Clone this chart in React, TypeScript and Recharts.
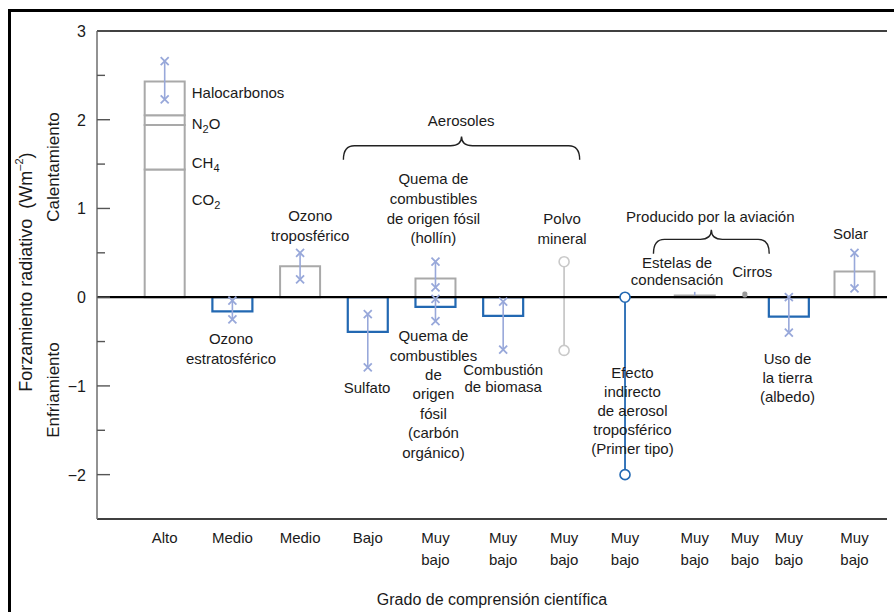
import {
  Bar,
  ComposedChart,
  ErrorBar,
  ReferenceArea,
  ReferenceDot,
  ReferenceLine,
  Scatter,
  XAxis,
  YAxis,
} from "recharts"

const FONT = '"Liberation Sans", Arial, Helvetica, sans-serif'
const GRAY = "#a9a9a9"
const BLUE = "#2268b2"
const ERR = "#98a8da"
const DUST = "#c9c9c9"

// grado de comprensión científica (eje x)
const levelPos = [1, 2, 3, 4, 5, 6, 6.9, 7.8, 8.83, 9.57, 10.22, 11.19]
const levelLabels = [
  "Alto", "Medio", "Medio", "Bajo", "Muy bajo", "Muy bajo",
  "Muy bajo", "Muy bajo", "Muy bajo", "Muy bajo", "Muy bajo", "Muy bajo",
]

// gases de efecto invernadero (barra apilada)
const ghgKeys = ["co2", "ch4", "n2o", "halo"]
const ghgValues = [1.44, 0.5, 0.11, 0.38]
const ghgHigh = 2.66
const ghgLow = 2.23

// resto de agentes
const agents = [
  "Ozono estratosférico", "Ozono troposférico", "Sulfato", "Hollín",
  "Carbón orgánico", "Combustión de biomasa", "Estelas de condensación",
  "Uso de la tierra", "Solar",
]
const agentPos = [2, 3, 4, 5, 5, 6, 8.83, 10.22, 11.19]
const agentForcing = [-0.16, 0.35, -0.39, 0.21, -0.11, -0.21, 0.02, -0.22, 0.29]
const agentHigh = [-0.04, 0.5, -0.19, 0.4, -0.02, -0.05, 0.06, 0, 0.5]
const agentLow = [-0.25, 0.2, -0.79, 0.11, -0.27, -0.59, 0.02, -0.4, 0.1]
const agentMarks = [true, true, true, true, true, true, false, true, true]

// agentes con solo un intervalo
const rangeNames = ["Polvo mineral", "Efecto indirecto"]
const rangePos = [6.9, 7.8]
const rangeHigh = [0.4, 0]
const rangeLow = [-0.6, -2]
const rangeColors = [DUST, BLUE]

const cirrusPos = 9.57
const cirrusForcing = 0.03

const yTicks = [-2, -1.5, -1, -0.5, 0, 0.5, 1, 1.5, 2, 2.5, 3]

const barRows = [
  { pos: levelPos[0], ...Object.fromEntries(ghgKeys.map((k, i) => [k, ghgValues[i]])) },
  ...agents.map((name, i) => ({
    name,
    pos: agentPos[i],
    warm: agentForcing[i] > 0 ? agentForcing[i] : null,
    cool: agentForcing[i] < 0 ? agentForcing[i] : null,
  })),
]

const errRows = [
  { pos: levelPos[0], hi: ghgHigh, lo: ghgLow, mark: true },
  ...agents.map((_, i) => ({ pos: agentPos[i], hi: agentHigh[i], lo: agentLow[i], mark: agentMarks[i] })),
].map((r) => ({ ...r, mid: (r.hi + r.lo) / 2, half: (r.hi - r.lo) / 2 }))

const errMarks = errRows
  .filter((r) => r.mark)
  .flatMap((r) => [
    { pos: r.pos, val: r.hi },
    { pos: r.pos, val: r.lo },
  ])

// textos del gráfico (en unidades de los ejes)
const notes = [
  { x: 1.4, y: 2.3, lines: ["Halocarbonos"], anchor: "start" },
  { x: 1.4, y: 1.95, lines: ["N_2O"], anchor: "start" },
  { x: 1.4, y: 1.51, lines: ["CH_4"], anchor: "start" },
  { x: 1.4, y: 1.1, lines: ["CO_2"], anchor: "start" },
  { x: 3.15, y: 0.92, lines: ["Ozono", "troposférico"] },
  { x: 1.98, y: -0.47, lines: ["Ozono", "estratosférico"] },
  { x: 5.38, y: 1.99, lines: ["Aerosoles"] },
  { x: 4.97, y: 1.33, lines: ["Quema de", "combustibles", "de origen fósil", "(hollín)"], lh: 19.7 },
  { x: 6.87, y: 0.88, lines: ["Polvo", "mineral"] },
  { x: 3.99, y: -1.02, lines: ["Sulfato"] },
  { x: 4.97, y: -0.44, lines: ["Quema de", "combustibles", "de", "origen", "fósil", "(carbón", "orgánico)"], lh: 19.4 },
  { x: 6.0, y: -0.82, lines: ["Combustión", "de biomasa"], lh: 17.5 },
  { x: 7.91, y: -0.85, lines: ["Efecto", "indirecto", "de aerosol", "troposférico", "(Primer tipo)"], lh: 19 },
  { x: 9.06, y: 0.9, lines: ["Producido por la aviación"] },
  { x: 8.57, y: 0.39, lines: ["Estelas de", "condensación"], lh: 17 },
  { x: 9.68, y: 0.28, lines: ["Cirros"] },
  { x: 10.2, y: -0.7, lines: ["Uso de", "la tierra", "(albedo)"], lh: 19 },
  { x: 11.13, y: 0.71, lines: ["Solar"] },
]

const braces = [
  { x1: 3.64, x2: 7.13, y1: 1.55, y2: 1.81 },
  { x1: 8.22, x2: 9.93, y1: 0.49, y2: 0.76 },
]

function rich(s: string) {
  const parts = s.split(/_(\d)/)
  const out: any[] = []
  parts.forEach((p, i) => {
    if (i % 2 === 1) {
      out.push(<tspan key={i} fontSize={11} dy={4}>{p}</tspan>)
    } else if (p) {
      out.push(<tspan key={i} dy={i > 0 ? -4 : 0}>{p}</tspan>)
    }
  })
  return out
}

const makeNote = (lines: string[], anchor: string, lh: number) => (p: any) => (
  <g>
    {lines.map((l, k) => (
      <text key={k} x={p.cx} y={p.cy + 5 + k * lh} textAnchor={anchor} fontSize={15} fill="#1a1a1a">
        {rich(l)}
      </text>
    ))}
  </g>
)

const Brace = (p: any) => {
  const { x, y, width: w, height: h } = p
  const mid = x + w / 2
  const arm = y + h * 0.4
  const r = 11
  const d = `M${x},${y + h} Q${x},${arm} ${x + r},${arm} L${mid - r},${arm} Q${mid},${arm} ${mid},${y} Q${mid},${arm} ${mid + r},${arm} L${x + w - r},${arm} Q${x + w},${arm} ${x + w},${y + h}`
  return <path d={d} fill="none" stroke="#222" strokeWidth={1.4} />
}

const Empty = () => <g />

const Cross = (p: any) => (
  <path
    d={`M${p.cx - 4},${p.cy - 4}L${p.cx + 4},${p.cy + 4}M${p.cx - 4},${p.cy + 4}L${p.cx + 4},${p.cy - 4}`}
    stroke={ERR}
    strokeWidth={1.8}
  />
)

const ring = (color: string) => (p: any) =>
  <circle cx={p.cx} cy={p.cy} r={5} fill="#fff" stroke={color} strokeWidth={1.6} />

const CirrusMark = (p: any) => <rect x={p.cx - 2.5} y={p.cy - 3} width={5} height={6} rx={2} fill="#999" />

const LeftTick = (p: any) => {
  const v = p.payload.value
  const major = Number.isInteger(v)
  return (
    <g>
      <line x1={p.x} x2={p.x + (major ? 13 : 8)} y1={p.y} y2={p.y} stroke="#555" strokeWidth={1.4} />
      {major && (
        <text x={p.x - 11} y={p.y + 6} textAnchor="end" fontSize={16} fill="#1a1a1a">
          {v < 0 ? `\u2212${-v}` : v}
        </text>
      )}
    </g>
  )
}

const RightTick = (p: any) => (
  <line x1={p.x - 7} x2={p.x} y1={p.y} y2={p.y} stroke="#555" strokeWidth={1.4} />
)

const LevelTick = (p: any) => {
  const i = levelPos.indexOf(p.payload.value)
  const words = (levelLabels[i] || "").split(" ")
  return (
    <g>
      {words.map((w, k) => (
        <text key={k} x={p.x} y={p.y + 24 + k * 21.5} textAnchor="middle" fontSize={15} fill="#1a1a1a">
          {w}
        </text>
      ))}
    </g>
  )
}

const YTitles = (p: any) => {
  const { x, y, height } = p.viewBox
  const cy = y + height * 0.494
  return (
    <g fill="#1a1a1a" fontSize={17}>
      <text
        transform={`translate(${x + 18},${cy}) rotate(-90)`}
        textAnchor="middle"
        dominantBaseline="central"
        fontSize={18}
      >
        {"Forzamiento radiativo \u00a0(Wm"}
        <tspan fontSize={11} dy={-7}>{"\u2013"}2</tspan>
        <tspan dy={7}>)</tspan>
      </text>
      <text transform={`translate(${x + 45},${y + 136}) rotate(-90)`} textAnchor="middle" dominantBaseline="central">
        Calentamiento
      </text>
      <text transform={`translate(${x + 45},${y + 359}) rotate(-90)`} textAnchor="middle" dominantBaseline="central">
        Enfriamiento
      </text>
    </g>
  )
}

export default function App() {
  return (
    <div style={{ position: "absolute", left: 0, top: 0, width: 894, height: 612, background: "#fff", fontFamily: FONT }}>
      <div
        style={{
          position: "absolute", left: 8, top: 9, right: 0, bottom: 0,
          borderTop: "3px solid #000", borderLeft: "3px solid #000",
        }}
      />
      <ComposedChart
        width={894}
        height={612}
        data={barRows}
        margin={{ top: 31, right: 7, bottom: 0, left: 8 }}
        style={{ fontFamily: FONT, position: "absolute", left: 0, top: 0 }}
      >
        <XAxis
          type="number"
          dataKey="pos"
          domain={[0, 11.67]}
          ticks={levelPos}
          interval={0}
          allowDataOverflow
          height={93}
          tickSize={0}
          tickMargin={0}
          tickLine={false}
          axisLine={{ stroke: "#000", strokeWidth: 1.6 }}
          tick={<LevelTick />}
          label={{ value: "Grado de comprensión científica", position: "insideBottom", offset: 7, fontSize: 16, fill: "#1a1a1a" }}
        />
        <YAxis
          type="number"
          domain={[-2.5, 3]}
          ticks={yTicks}
          interval={0}
          allowDataOverflow
          width={89}
          tickSize={0}
          tickMargin={0}
          tickLine={false}
          axisLine={{ stroke: "#777", strokeWidth: 1.6 }}
          tick={<LeftTick />}
          label={(p: any) => <YTitles viewBox={p.viewBox} />}
        />
        <YAxis
          yAxisId="r"
          orientation="right"
          type="number"
          domain={[-2.5, 3]}
          ticks={yTicks.slice(0, -1)}
          interval={0}
          allowDataOverflow
          width={0}
          tickSize={0}
          tickMargin={0}
          tickLine={false}
          axisLine={{ stroke: "#000", strokeWidth: 1.4 }}
          tick={<RightTick />}
        />
        <ReferenceLine y={3} stroke="#000" strokeWidth={1.4} />

        {ghgKeys.map((k) => (
          <Bar key={k} dataKey={k} stackId="f" barSize={40} fill="#fff" stroke={GRAY} strokeWidth={2} isAnimationActive={false} />
        ))}
        <Bar dataKey="warm" stackId="f" barSize={40} fill="#fff" stroke={GRAY} strokeWidth={2} isAnimationActive={false} />
        <Bar dataKey="cool" stackId="f" barSize={40} fill="#fff" stroke={BLUE} strokeWidth={2.2} isAnimationActive={false} />

        {notes.map((n, i) => (
          <ReferenceDot
            key={i}
            x={n.x}
            y={n.y}
            r={0}
            shape={makeNote(n.lines, n.anchor || "middle", n.lh || 20)}
          />
        ))}
        {braces.map((b, i) => (
          <ReferenceArea key={i} x1={b.x1} x2={b.x2} y1={b.y1} y2={b.y2} shape={<Brace />} />
        ))}

        <Scatter data={errRows} dataKey="mid" shape={<Empty />} isAnimationActive={false}>
          <ErrorBar dataKey="half" direction="y" width={0} stroke={ERR} strokeWidth={1.6} />
        </Scatter>
        <Scatter data={errMarks} dataKey="val" shape={<Cross />} isAnimationActive={false} />

        {rangeNames.map((name, i) => (
          <Scatter
            key={name}
            name={name}
            data={[{ pos: rangePos[i], mid: (rangeHigh[i] + rangeLow[i]) / 2, half: (rangeHigh[i] - rangeLow[i]) / 2 }]}
            dataKey="mid"
            shape={<Empty />}
            isAnimationActive={false}
          >
            <ErrorBar dataKey="half" direction="y" width={0} stroke={rangeColors[i]} strokeWidth={1.8} />
          </Scatter>
        ))}
        {rangeNames.map((name, i) => (
          <Scatter
            key={name + "-ends"}
            data={[
              { pos: rangePos[i], val: rangeHigh[i] },
              { pos: rangePos[i], val: rangeLow[i] },
            ]}
            dataKey="val"
            shape={ring(rangeColors[i])}
            isAnimationActive={false}
          />
        ))}
        <Scatter data={[{ pos: cirrusPos, val: cirrusForcing }]} dataKey="val" shape={<CirrusMark />} isAnimationActive={false} />

        <ReferenceLine y={0} stroke="#000" strokeWidth={2.2} />
      </ComposedChart>
    </div>
  )
}
